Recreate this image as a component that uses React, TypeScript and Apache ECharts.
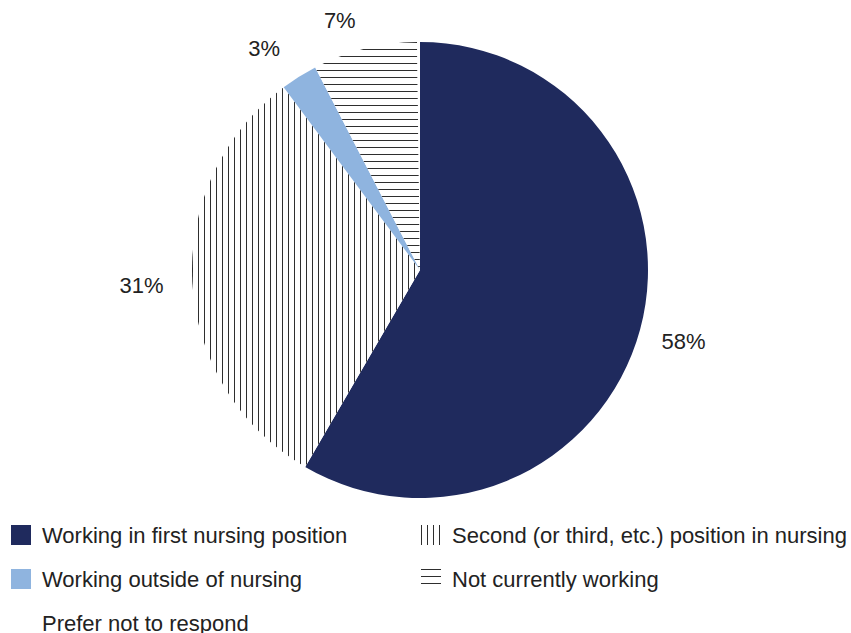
import React, { useEffect, useRef } from 'react';
import * as echarts from 'echarts';

const categories = [
  'Working in first nursing position',
  'Second (or third, etc.) position in nursing',
  'Working outside of nursing',
  'Not currently working',
  'Prefer not to respond',
];
const values = [58.4, 31.4, 2.6, 7.4, 0.2];
const labelTexts = ['58%', '31%', '3%', '7%', ''];

const FONT = '"Liberation Sans", Arial, Helvetica, sans-serif';

export default function App() {
  const ref = useRef<HTMLDivElement>(null);
  useEffect(() => {
    if (!ref.current) return;
    const chart = echarts.init(ref.current, undefined, { renderer: 'svg' });
    const lineColor = '#2e2e2e';
    const verticalDecal = {
      symbol: 'rect',
      symbolSize: 1,
      color: lineColor,
      dashArrayX: [1, 5],
      dashArrayY: [1, 0],
      rotation: 0,
    };
    const horizontalDecal = {
      symbol: 'rect',
      symbolSize: 1,
      color: lineColor,
      dashArrayX: [1, 0],
      dashArrayY: [1, 5.5],
      rotation: 0,
    };
    const styles: any[] = [
      { color: '#1f2a5d' },
      { color: '#ffffff', decal: verticalDecal },
      { color: '#8fb4df' },
      { color: '#ffffff', decal: horizontalDecal },
      { color: '#ffffff' },
    ];
    const offsets = [
      [0, 0],
      [-6, 0],
      [-11, 10],
      [-14, 15],
      [0, 0],
    ];
    // legend placement per category: [left, top]
    const legendPos = [
      [11, 524],
      [421, 524],
      [11, 568],
      [421, 568],
      [11, 612],
    ];
    const center = [420, 270];
    const legends = categories.map((name, i) => ({
      orient: 'horizontal',
      left: legendPos[i][0],
      top: legendPos[i][1],
      itemWidth: 20,
      itemHeight: 20,
      icon: 'rect',
      selectedMode: false,
      padding: 0,
      data: [name],
      textStyle: { fontSize: 22, color: '#222', fontFamily: FONT, padding: [0, 0, 0, 6] },
    }));
    chart.setOption({
      animation: false,
      backgroundColor: '#fff',
      legend: legends,
      series: [
        {
          type: 'pie',
          center,
          radius: 228,
          startAngle: 90,
          clockwise: true,
          avoidLabelOverlap: false,
          label: { show: false },
          labelLine: { show: false },
          emphasis: { disabled: true },
          itemStyle: { borderWidth: 0 },
          data: categories.map((name, i) => ({ name, value: values[i], itemStyle: styles[i] })),
        },
        {
          type: 'pie',
          center,
          radius: [228, 312],
          startAngle: 90,
          clockwise: true,
          silent: true,
          avoidLabelOverlap: false,
          emphasis: { disabled: true },
          labelLine: { show: false },
          itemStyle: { color: 'rgba(0,0,0,0)', borderWidth: 0 },
          label: {
            show: true,
            position: 'inside',
            fontSize: 22,
            color: '#222',
            fontFamily: FONT,
          },
          data: categories.map((name, i) => ({
            name: 'label-' + i,
            value: values[i],
            label: {
              show: labelTexts[i] !== '',
              formatter: labelTexts[i],
              offset: offsets[i],
            },
          })),
        },
      ],
    });
    return () => chart.dispose();
  }, []);
  return (
    <div
      ref={ref}
      style={{ position: 'absolute', left: 0, top: 0, width: 851, height: 633, background: '#fff' }}
    />
  );
}
